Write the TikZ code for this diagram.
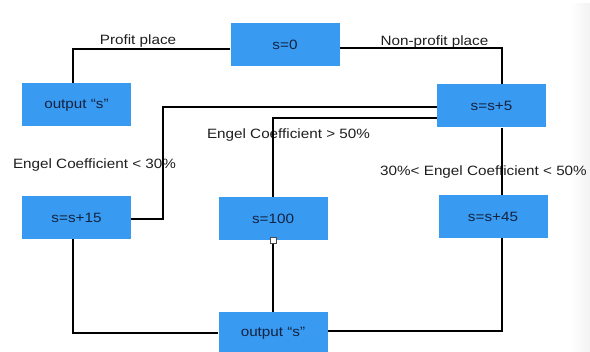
\documentclass[tikz,border=0pt]{standalone}
\usepackage{fontspec}
\setmainfont[FakeStretch=1.13]{Liberation Sans}
\usetikzlibrary{arrows.meta}
\definecolor{boxblue}{RGB}{56,154,240}
\definecolor{boxtext}{RGB}{20,34,64}
\definecolor{labeltext}{RGB}{30,30,30}
\tikzset{
  proc/.style={fill=boxblue, text=boxtext, minimum width=109pt, minimum height=43pt,
    inner sep=0pt, font=\fontsize{13.5}{16}\selectfont},
  cond/.style={text=labeltext, inner sep=1pt, font=\fontsize{13.5}{16}\selectfont},
  wire/.style={black, line width=2pt},
}
\newcommand{\procbox}[3]{%
 \node[proc] ({#1}) at ({#2}) {#3};%
}

\begin{document}
\begin{tikzpicture}[x=1pt,y=-1pt]
  \useasboundingbox (0,0) rectangle (590,352);
  \shade[left color=white, right color=black!5] (570,4) rectangle (590,352);
  % boxes
  \procbox{s0}{285,44.5}{s=0};
  \procbox{outL}{76.5,105}{output “s”};
  \procbox{s5}{491.5,106}{s=s+5};
  \procbox{s15}{76.5,217.5}{s=s+15};
  \procbox{s100}{273,218.5}{s=100};
  \procbox{s45}{493,216.5}{s=s+45};
  \procbox{outB}{273,333.5}{output “s”};
  % conditions
  \node[cond] (lprofit) at (138,41.5) {Profit place};
  \node[cond] (lnonprofit) at (434.5,42) {Non-profit place};
  \node[cond] (lover) at (288.5,135.5) {Engel Coefficient > 50\%};
  \node[cond] (lunder) at (94.5,165) {Engel Coefficient < 30\%};
  \node[cond] (lmid) at (483.5,172) {30\%< Engel Coefficient < 50\%};
  % wires
  \coordinate (turn15) at (163,160);
  \draw[wire] ([yshift=-4.5pt]s0.west) -| ([xshift=-3.5pt]outL.north);
  \draw[wire] ([yshift=-3.5pt]s0.east) -| ([xshift=10.5pt]s5.north);
  \draw[wire] ([yshift=-1pt]s5.west) -| (turn15) |- ([yshift=-1.5pt]s15.east);
  \draw[wire] ([yshift=-12pt]s5.west) -| (s100.north);
  \draw[wire] ([xshift=10.5pt]s5.south) -- ([xshift=9pt]s45.north);
  \draw[wire] ([xshift=9pt]s45.south) |- ([yshift=2pt]outB.east);
  \draw[wire] ([xshift=-3.5pt]s15.south) |- (outB.west);
  \draw[wire, -{Square[fill=white, color=black!70, line width=0.8pt, length=7pt, width=7pt]},
    shorten >=-3.5pt] (outB.north) -- (s100.south);
\end{tikzpicture}
\end{document}
